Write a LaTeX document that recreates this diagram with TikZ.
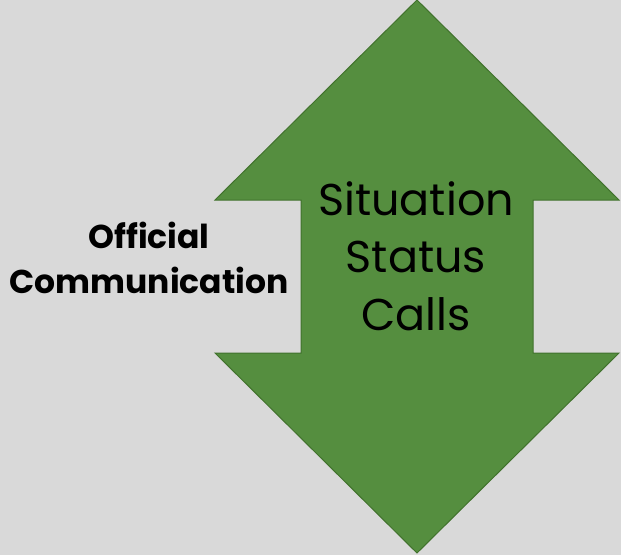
\documentclass[tikz,border=0pt]{standalone}
\usepackage{fontspec}
\setmainfont{Poppins}
\definecolor{bg}{HTML}{D9D9D9}
\definecolor{arrowfill}{HTML}{558E3F}
\definecolor{arrowline}{HTML}{41722D}
\begin{document}
\begin{tikzpicture}[x=1pt,y=-1pt,
  arrowshape/.style={fill=arrowfill,draw=arrowline,line width=1pt,line join=miter},
  bigtext/.style={font=\fontsize{44.5}{57}\selectfont,text=black,anchor=base,inner sep=0pt},
  sidetext/.style={font=\bfseries\fontsize{33}{45}\selectfont,text=black,anchor=base,inner sep=0pt}]
\fill[bg] (0,0) rectangle (621,555);
\useasboundingbox (0,0) rectangle (621,555);
\draw[arrowshape] (417,0) -- (619,200) -- (533,200) -- (533,353) -- (619,353)
  -- (417,553) -- (215,353) -- (301,353) -- (301,200) -- (215,200) -- cycle;
\node[bigtext] (l1) at (416,215) {Situation};
\node[bigtext] (l2) at (416,272) {Status};
\node[bigtext] (l3) at (416,330) {Calls};
\node[sidetext] (s1) at (149,248) {Official};
\node[sidetext] (s2) at (149,293) {Communication};
\end{tikzpicture}
\end{document}
